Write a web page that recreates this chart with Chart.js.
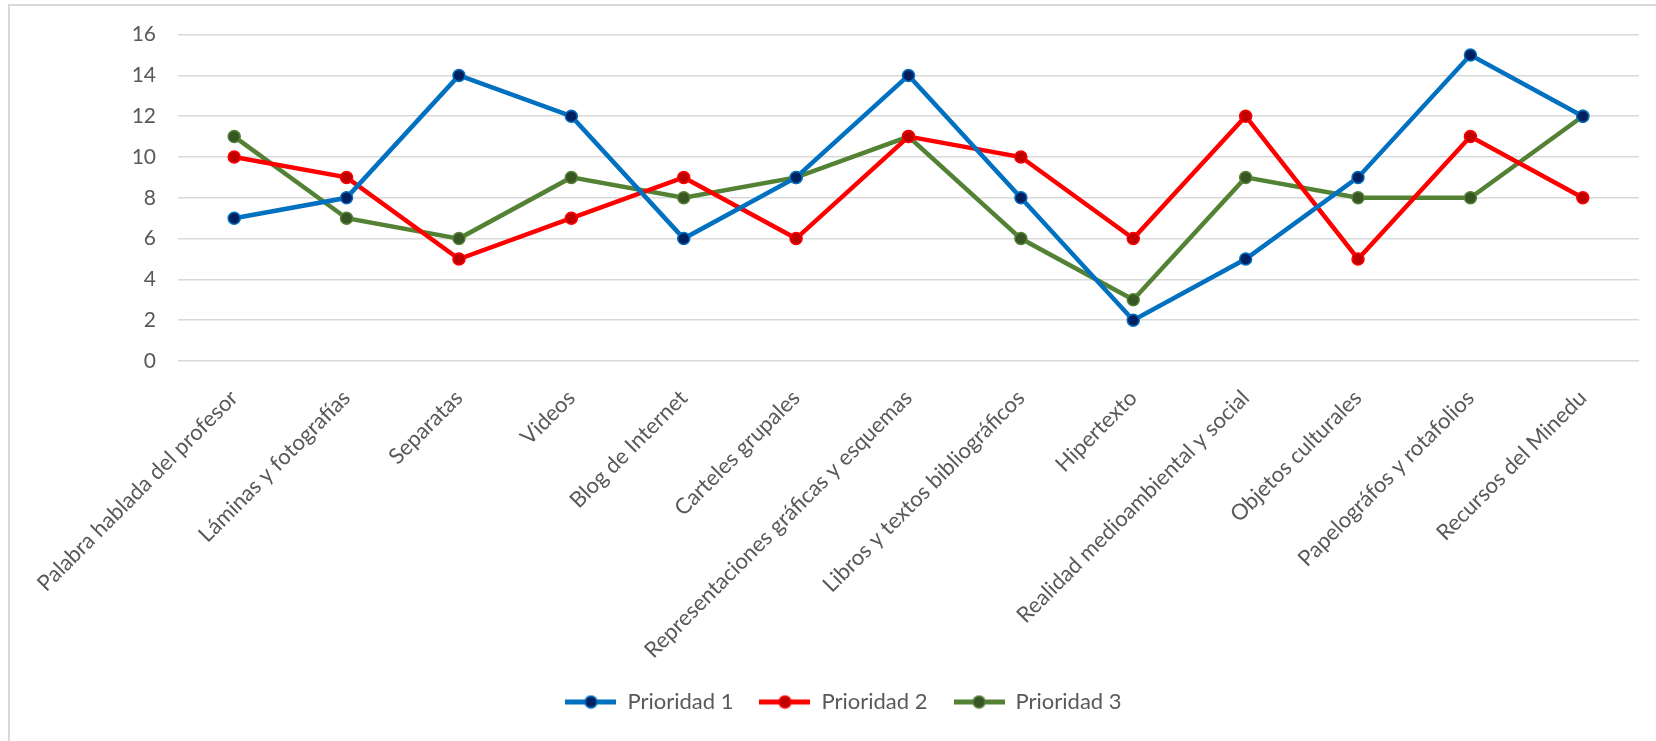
<!DOCTYPE html>
<html lang="es">
<head>
<meta charset="utf-8">
<title>Prioridades</title>
<script src="https://cdn.jsdelivr.net/npm/chart.js@4.4.1/dist/chart.umd.min.js"></script>
<style>
    html, body {
        margin: 0;
        padding: 0;
        background: #ffffff;
    }
    .wrap {
        position: relative;
        width: 1656px;
        height: 741px;
        overflow: hidden;
    }
    .frame {
        position: absolute;
        left: 8px;
        top: 4px;
        right: -4px;
        bottom: -4px;
        border-left: 2px solid #d9d9d9;
        border-top: 2px solid #d9d9d9;
    }
    #chart {
        position: absolute;
        left: 0;
        top: 0;
    }
</style>
</head>
<body>
<div class="wrap">
    <div class="frame"></div>
    <canvas id="chart" width="1656" height="741"></canvas>
</div>
<script>
const categories = [
    'Palabra hablada del profesor',
    'Láminas y fotografías',
    'Separatas',
    'Videos',
    'Blog de Internet',
    'Carteles grupales',
    'Representaciones gráficas y esquemas',
    'Libros y textos bibliográficos',
    'Hipertexto',
    'Realidad medioambiental y social',
    'Objetos culturales',
    'Papelográfos y rotafolios',
    'Recursos del Minedu'
];

const seriesNames = ['Prioridad 1', 'Prioridad 2', 'Prioridad 3'];

const prioridad1 = [7, 8, 14, 12, 6, 9, 14, 8, 2, 5, 9, 15, 12];
const prioridad2 = [10, 9, 5, 7, 9, 6, 11, 10, 6, 12, 5, 11, 8];
const prioridad3 = [11, 7, 6, 9, 8, 9, 11, 6, 3, 9, 8, 8, 12];

const yTicks = [0, 2, 4, 6, 8, 10, 12, 14, 16];

const lineColors = ['#0070c0', '#ff0000', '#548235'];
const markerColors = ['#002060', '#c00000', '#375623'];

// маленькая картинка для легенды: линия с точкой посередине
function legendIcon(line, fill) {
    const c = document.createElement('canvas');
    c.width = 51;
    c.height = 15;
    const ctx = c.getContext('2d');
    ctx.strokeStyle = line;
    ctx.lineWidth = 5;
    ctx.beginPath();
    ctx.moveTo(0, 7.5);
    ctx.lineTo(51, 7.5);
    ctx.stroke();
    ctx.beginPath();
    ctx.arc(25.5, 7.5, 6, 0, Math.PI * 2);
    ctx.fillStyle = fill;
    ctx.fill();
    ctx.lineWidth = 1.5;
    ctx.strokeStyle = line;
    ctx.stroke();
    return c;
}

function makeDataset(i, values) {
    return {
        label: seriesNames[i],
        data: values,
        borderColor: lineColors[i],
        backgroundColor: markerColors[i],
        borderWidth: 4.5,
        pointRadius: 6,
        pointHoverRadius: 6,
        pointBackgroundColor: markerColors[i],
        pointBorderColor: lineColors[i],
        pointBorderWidth: 1.5,
        tension: 0
    };
}

// легенда в оригинале чуть правее центра
const legendShift = {
    id: 'legendShift',
    afterLayout(chart) {
        if (chart.legend) {
            chart.legend.left += 24;
            chart.legend.right += 24;
        }
    }
};

function draw() {
    Chart.defaults.font.family = 'Lato, "Open Sans", sans-serif';
    Chart.defaults.color = '#595959';

    const icons = lineColors.map((c, i) => legendIcon(c, markerColors[i]));

    new Chart(document.getElementById('chart'), {
        type: 'line',
        data: {
            labels: categories,
            datasets: [
                makeDataset(0, prioridad1),
                makeDataset(1, prioridad2),
                makeDataset(2, prioridad3)
            ]
        },
        options: {
            responsive: false,
            animation: false,
            layout: {
                padding: {top: 33, right: 17, bottom: 18, left: 0}
            },
            scales: {
                x: {
                    offset: true,
                    grid: {display: false, drawTicks: false},
                    border: {display: false},
                    ticks: {
                        autoSkip: false,
                        maxRotation: 45,
                        minRotation: 45,
                        padding: 24,
                        color: '#595959',
                        font: {size: 22}
                    },
                    afterFit: (scale) => {
                        scale.height = 304;
                    }
                },
                y: {
                    min: 0,
                    max: 16,
                    afterBuildTicks: (scale) => {
                        scale.ticks = yTicks.map(v => ({value: v}));
                    },
                    grid: {color: '#d9d9d9', lineWidth: 1.5, drawTicks: false},
                    border: {display: false},
                    ticks: {
                        padding: 22,
                        color: '#595959',
                        font: {size: 21}
                    },
                    afterFit: (scale) => {
                        scale.width = 178;
                    }
                }
            },
            plugins: {
                tooltip: {enabled: false},
                legend: {
                    position: 'bottom',
                    labels: {
                        usePointStyle: true,
                        pointStyleWidth: 51,
                        boxHeight: 15,
                        padding: 26,
                        color: '#595959',
                        font: {size: 22},
                        generateLabels: (chart) => chart.data.datasets.map((ds, i) => ({
                            text: ds.label,
                            pointStyle: icons[i],
                            fontColor: '#595959',
                            datasetIndex: i,
                            hidden: false,
                            lineWidth: 0
                        }))
                    }
                }
            }
        },
        plugins: [legendShift]
    });
}

document.fonts.load('22px Lato').then(draw, draw);
</script>
</body>
</html>
